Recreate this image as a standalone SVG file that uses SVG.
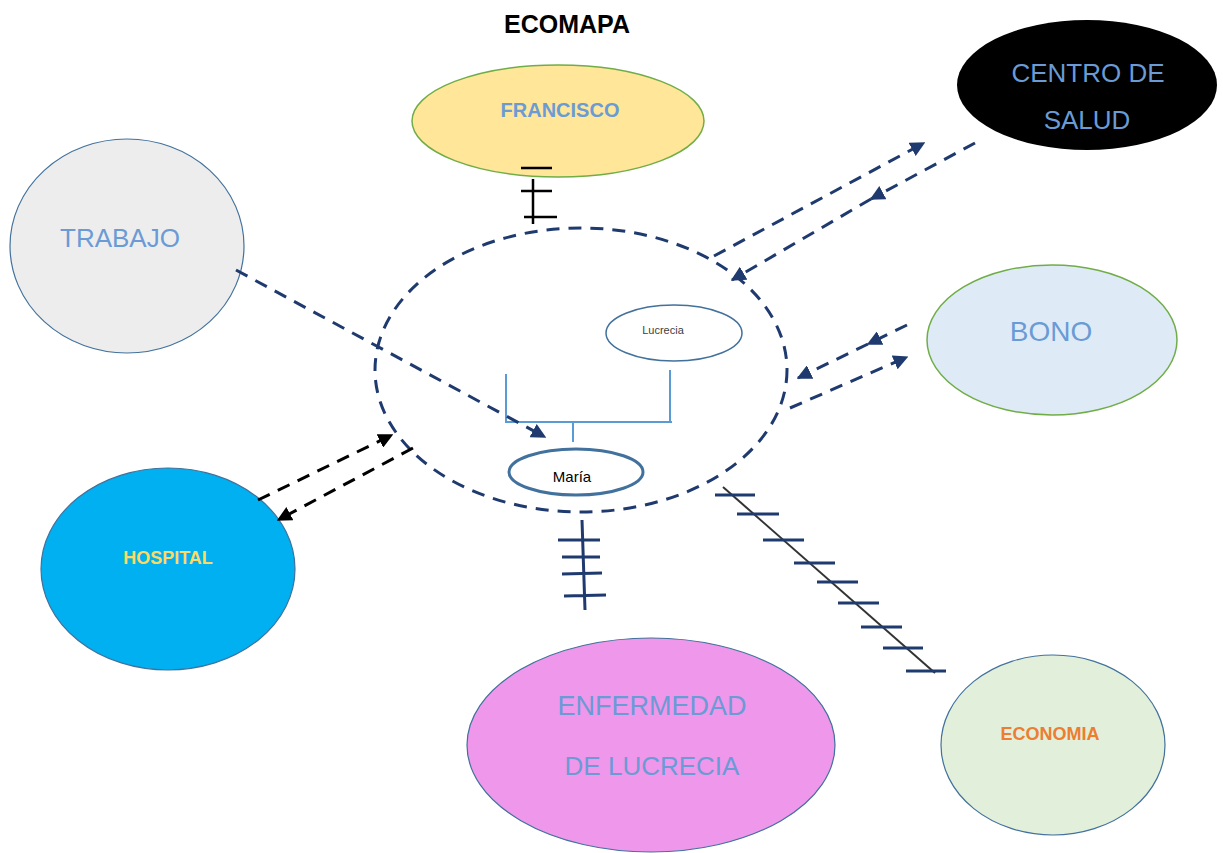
<svg xmlns="http://www.w3.org/2000/svg" width="1223" height="853" viewBox="0 0 1223 853">
<style>
text{font-family:"Liberation Sans",Arial,sans-serif;text-anchor:middle}
.big{font-size:26px;fill:#6A9BD5}
.dn{fill:none;stroke:#1F3A6E;stroke-width:3;stroke-dasharray:13 9}
.dk{fill:none;stroke:#000;stroke-width:3;stroke-dasharray:13 9}
.tick{stroke:#1F3A6E;stroke-width:3;fill:none}
.tb{stroke:#000;stroke-width:2.5;fill:none}
.fam{stroke:#5B9BD5;stroke-width:2;fill:none}
</style>
<defs>
<marker id="an" viewBox="0 0 10 10" refX="9" refY="5" markerWidth="5" markerHeight="5" orient="auto" markerUnits="strokeWidth"><path d="M0,0L10,5L0,10z" fill="#1F3A6E"/></marker>
<marker id="ak" viewBox="0 0 10 10" refX="9" refY="5" markerWidth="5" markerHeight="5" orient="auto" markerUnits="strokeWidth"><path d="M0,0L10,5L0,10z" fill="#000"/></marker>
</defs>
<rect width="1223" height="853" fill="#fff"/>
<text x="567" y="33" style="font-size:25px;font-weight:bold">ECOMAPA</text>

<g id="francisco"><ellipse cx="558" cy="121" rx="146" ry="56" fill="#FFE699" stroke="#70AD47" stroke-width="1.5"/><text x="560" y="117" style="font-size:20px;font-weight:bold;fill:#6A9BD5">FRANCISCO</text></g>
<g id="centro"><ellipse cx="1087" cy="85" rx="130" ry="65" fill="#000"/><text x="1088" y="82" class="big">CENTRO DE</text><text x="1087" y="129" class="big">SALUD</text></g>
<g id="trabajo"><ellipse cx="127" cy="246" rx="117" ry="107" fill="#EDEDED" stroke="#41719C" stroke-width="1.2"/><text x="120" y="247" class="big">TRABAJO</text></g>
<g id="bono"><ellipse cx="1052" cy="340" rx="125" ry="75" fill="#DEEBF7" stroke="#70AD47" stroke-width="1.5"/><text x="1051" y="341" class="big" style="font-size:28px">BONO</text></g>
<g id="hospital"><ellipse cx="168" cy="569" rx="127" ry="101" fill="#00B0F0" stroke="#41719C" stroke-width="1.2"/><text x="168" y="564" style="font-size:18px;font-weight:bold;fill:#FFD966">HOSPITAL</text></g>
<g id="enfermedad"><ellipse cx="651" cy="745" rx="184" ry="107" fill="#EE97EB" stroke="#41719C" stroke-width="1.2"/><text x="652" y="715" class="big" style="font-size:27px">ENFERMEDAD</text><text x="652" y="775" class="big">DE LUCRECIA</text></g>
<g id="economia"><ellipse cx="1053" cy="745" rx="112" ry="90" fill="#E2EFDA" stroke="#41719C" stroke-width="1.2"/><text x="1050" y="740" style="font-size:18px;font-weight:bold;fill:#ED7D31">ECONOMIA</text></g>

<g id="familia">
<ellipse cx="581" cy="370" rx="206" ry="142" class="dn"/>
<g id="lucrecia"><ellipse cx="674" cy="333" rx="68" ry="28" fill="#fff" stroke="#41719C" stroke-width="1.5"/><text x="663" y="334" style="font-size:11px;fill:#404040">Lucrecia</text></g>
<g id="maria"><ellipse cx="576" cy="472" rx="67" ry="23" fill="#fff" stroke="#41719C" stroke-width="3"/><text x="572" y="482" style="font-size:15px;fill:#000">María</text></g>
<path class="fam" d="M506,374V422H672M670,370V422M573,422V442"/>
</g>

<g id="connectors">
<path class="dn" d="M236,270L545,437" marker-end="url(#an)"/>
<path class="tb" d="M521,168H552M533,179V224M521,191H552M524,217H557"/>
<path class="dn" d="M714,256L924,143" marker-end="url(#an)"/>
<path class="dn" d="M975,143L871,199" marker-end="url(#an)"/>
<path class="dn" d="M871,199L732,280" marker-end="url(#an)"/>
<path class="dn" d="M907,325L868,344" marker-end="url(#an)"/>
<path class="dn" d="M868,344L798,378" marker-end="url(#an)"/>
<path class="dn" d="M790,408L907,357" marker-end="url(#an)"/>
<path class="dk" d="M258,500L392,435" marker-end="url(#ak)"/>
<path class="dk" d="M413,448L278,520" marker-end="url(#ak)"/>
<path class="tick" d="M582,520L585,610M558,540H600M562,557H600M562,574L602,573M564,596L606,595"/>
<path d="M723,487L935,673" stroke="#333" stroke-width="2" fill="none"/>
<path class="tick" d="M715,495H755M737,514H779M763,540H804M794,563H835M817,582H858M838,603H879M861,627H902M883,648H923M906,671H946"/>
</g>
</svg>
